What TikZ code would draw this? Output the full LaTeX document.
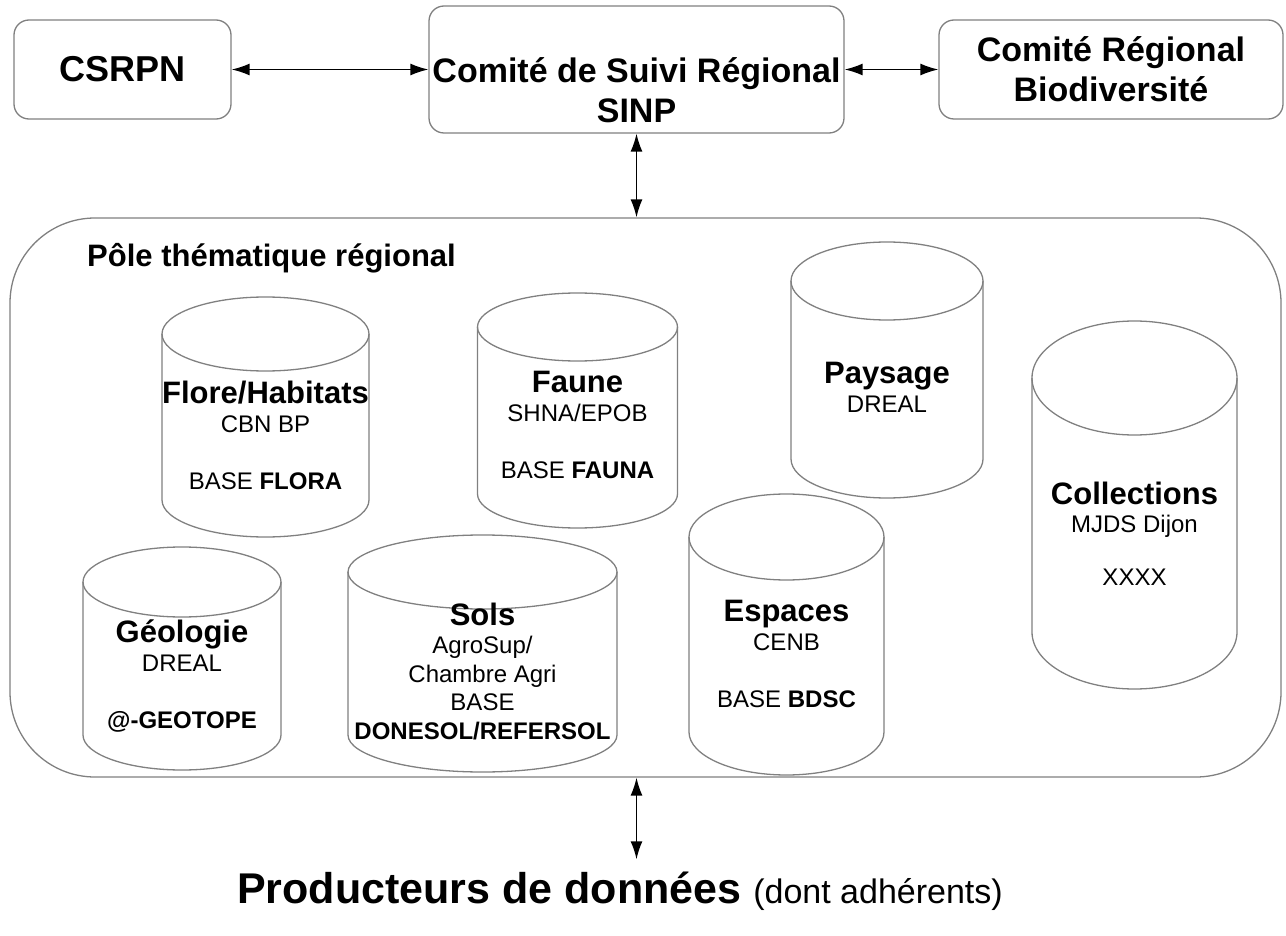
\documentclass[tikz,border=0pt]{standalone}
\usepackage{fontspec}
\setmainfont{Liberation Sans}
\usetikzlibrary{arrows.meta}

\definecolor{frame}{RGB}{128,128,128}

\tikzset{
  box/.style={draw=frame, line width=1.3pt, rounded corners=15pt, inner sep=0pt},
  link/.style={{Latex[length=18pt,width=12pt]}-{Latex[length=18pt,width=12pt]}, line width=1.5pt},
  cyl/.style={draw=frame, line width=1.3pt},
  dbtext/.style={align=center, anchor=base, inner sep=0pt, font=\fontsize{24}{28.5}\selectfont},
}
\newcommand{\dbhead}[1]{{\fontsize{31}{28.5}\selectfont\bfseries #1}}
% cylinder: name, centre x, top y, bottom y, x radius, y radius
\newcommand{\dbcyl}[6]{%
  \coordinate (#1) at (#2,{(#3+#4)/2});
  \draw[cyl] (#2,#3) ellipse [x radius=#5pt, y radius=#6pt];
  \draw[cyl] (#2-#5,#3) -- (#2-#5,#4) arc[start angle=180, end angle=360, x radius=#5pt, y radius=#6pt] -- (#2+#5,#3);
}

\begin{document}
\begin{tikzpicture}[x=1pt, y=-1pt]
\useasboundingbox (0,0) rectangle (1286,936);

% top row
\node[box, minimum width=217pt, minimum height=99pt, font=\fontsize{36}{42}\selectfont\bfseries] (csrpn) at (122.5,69.5) {CSRPN};
\node[box, minimum width=415pt, minimum height=127pt] (sinp) at (636.5,69.5) {};
% base = last line
\node[align=center, anchor=base, inner sep=0pt, font=\fontsize{34}{40}\selectfont\bfseries] (sinptext) at (636.5,123) {Comité de Suivi Régional\\SINP};
\node[box, minimum width=344pt, minimum height=99pt, align=center, font=\fontsize{34}{40}\selectfont\bfseries] (crb) at (1111,69.5) {Comité Régional\\Biodiversité};

% pole thematique
\node[box, rounded corners=85pt, minimum width=1271pt, minimum height=559pt] (pole) at (645.5,497.5) {};
\node[anchor=base west, inner sep=0pt, font=\fontsize{31}{36}\selectfont\bfseries] (poletitle) at (87,267) {Pôle thématique régional};

\dbcyl{flore}{265.5}{334}{500}{103.5}{37}
\dbcyl{faune}{577.5}{327}{494}{100}{34}
\dbcyl{paysage}{887}{281}{459}{96}{39}
\dbcyl{collec}{1134.5}{378}{632}{102.5}{57}
\dbcyl{geol}{182}{582}{735}{99}{35}
\dbcyl{sols}{482.5}{572}{735}{134.5}{37}
\dbcyl{espaces}{786.5}{537}{732}{97.5}{43}

\node[dbtext] (floretext) at (265.5,489) {\dbhead{Flore/Habitats}\\CBN BP\\[28.5pt]BASE \textbf{FLORA}};
\node[dbtext] (faunetext) at (577.5,478) {\dbhead{Faune}\\SHNA/EPOB\\[28.5pt]BASE \textbf{FAUNA}};
\node[dbtext] (paysagetext) at (887,412) {\dbhead{Paysage}\\DREAL};
\node[dbtext] (collectext) at (1134.5,585) {\dbhead{Collections}\\MJDS Dijon\\[24pt]XXXX};
\node[dbtext] (geoltext) at (182,728) {\dbhead{Géologie}\\DREAL\\[28.5pt]\textbf{@-GEOTOPE}};
\node[dbtext] (solstext) at (482.5,739) {\dbhead{Sols}\\AgroSup/\\Chambre Agri\\BASE\\\textbf{DONESOL/REFERSOL}};
\node[dbtext] (espacestext) at (786.5,707) {\dbhead{Espaces}\\CENB\\[28.5pt]BASE \textbf{BDSC}};

% producteurs
\node[anchor=base, inner sep=0pt] (prod) at (620,903) {\fontsize{43}{50}\selectfont\bfseries Producteurs de données \mdseries\fontsize{34}{40}\selectfont(dont adhérents)};

\draw[link] (csrpn) -- (sinp);
\draw[link] (sinp) -- (crb);
\draw[link] (sinp.south) -- (sinp.south |- pole.north);
\draw[link] (pole.south -| sinp.south) -- ([yshift=12pt]prod.north -| sinp.south);
\end{tikzpicture}
\end{document}
